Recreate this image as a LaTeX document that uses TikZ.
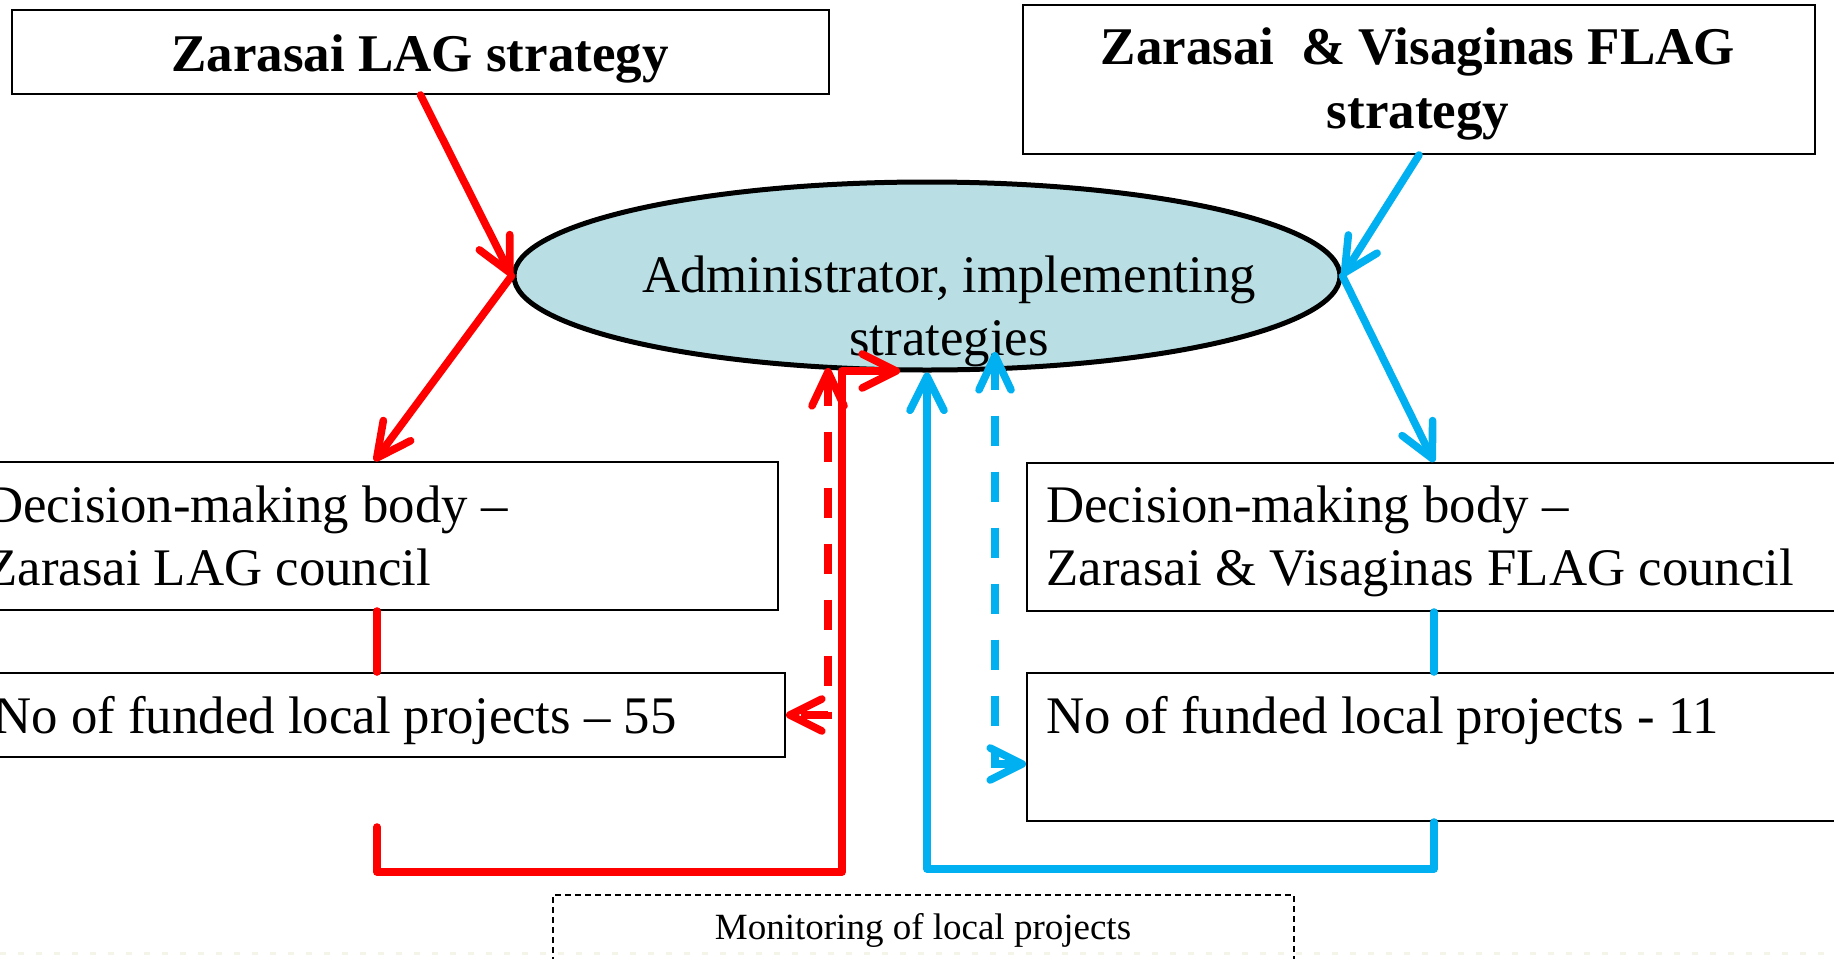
\documentclass[tikz,border=0pt]{standalone}
\usepackage{fontspec}
\setmainfont{Liberation Serif}
\usetikzlibrary{shapes.geometric,arrows.meta,calc}
\definecolor{lagred}{HTML}{FF0000}
\definecolor{flagblue}{HTML}{00B0F0}
\definecolor{adminfill}{HTML}{B9DFE4}
\definecolor{faint}{RGB}{244,244,232}
\begin{document}
\begin{tikzpicture}[x=0.5pt,y=-0.5pt,
  box/.style={draw=black, line width=1pt, inner sep=0pt, anchor=north west},
  txt/.style={inner sep=0pt, font=\fontsize{26.4}{31.5}\selectfont},
  titletxt/.style={inner sep=0pt, font=\fontsize{26.5}{32}\selectfont\bfseries},
  conn/.style={line width=3.8pt, line cap=round, line join=round},
  dashconn/.style={line width=3.8pt, line cap=butt, dash pattern=on 15pt off 13pt},
  tip/.style={-{Straight Barb[length=17pt,width=17pt,round]}},
  tips/.style={{Straight Barb[length=17pt,width=16pt,round]}-{Straight Barb[length=16pt,width=16pt,round]}}
]
\useasboundingbox (0,0) rectangle (1834,958);
\clip (0,0) rectangle (1834,958);
\fill[white] (0,0) rectangle (1834,958);

% boxes
\node[box, minimum width=408.5pt, minimum height=42pt] (lag) at (11,9) {};
\node[box, minimum width=396pt, minimum height=74.5pt] (flag) at (1022,4) {};
\node[draw=black, line width=2.5pt, fill=adminfill, ellipse, inner sep=0pt,
      minimum width=413pt, minimum height=94pt] (admin) at (927,276) {};
\node[box, minimum width=403.5pt, minimum height=74pt] (decL) at (-30,461) {};
\node[box, minimum width=408pt, minimum height=42pt] (noL) at (-32,672) {};
\node[box, minimum width=407pt, minimum height=74pt] (decR) at (1026,462) {};
\node[box, minimum width=407pt, minimum height=74pt] (noR) at (1026,672) {};
\node[box, line width=0.8pt, dash pattern=on 3pt off 2pt, minimum width=370.5pt, minimum height=53pt] (mon) at (552,894) {};

% texts (base anchor of a multi-line node = last line)
\node[titletxt, anchor=base] (lagT) at (420,71) {Zarasai LAG strategy};
\node[titletxt, anchor=base, align=center] (flagT) at (1418,128) {Zarasai\ \ \& Visaginas FLAG\\strategy};
\node[txt, anchor=base, align=center] (adminT) at (949,355) {Administrator, implementing\\strategies};
\node[txt, anchor=base west, align=left] (decLT) at (-15,585) {Decision-making body –\\Zarasai LAG council};
\node[txt, anchor=base west] (noLT) at (-7,733) {No of funded local projects – 55};
\node[txt, anchor=base west, align=left] (decRT) at (1046,585) {Decision-making body –\\Zarasai \& Visaginas FLAG council};
\node[txt, anchor=base west] (noRT) at (1046,733) {No of funded local projects - 11};
\node[inner sep=0pt, font=\fontsize{18.5}{22}\selectfont, anchor=base] (monT) at (923,939) {Monitoring of local projects};

% faint dotted line at the bottom edge
\draw[faint, line width=1.5pt, dash pattern=on 3pt off 6pt] (0,953) -- (1834,953);

% strategy arrows
\draw[conn, lagred, tip] (lag.south) -- (admin.west);
\draw[conn, lagred, tip] (admin.west) -- (decL.north);
\draw[conn, flagblue, tip] (flag.south) -- (admin.east);
\draw[conn, flagblue, tip] (admin.east) -- (decR.north);

% council to projects
\draw[conn, lagred] (noL.north |- decL.south) -- (noL.north);
\draw[conn, flagblue] (decR.south) -- (noR.north);

% feedback loops
\coordinate (rStart) at (377,827);
\coordinate (rCorner) at (842,872);
\coordinate (rEnd) at (900,371);
\draw[conn, lagred, tip] (rStart) |- (rCorner) |- (rEnd);

\coordinate (bCorner) at (927,869);
\draw[conn, flagblue, tip] (noR.south) |- (bCorner) -- (admin.south);

% dashed monitoring arrows
\coordinate (rdTop) at (828,368);
\draw[dashconn, lagred, tips] (rdTop) |- (noL.east);
\coordinate (bdTop) at (995,352);
\coordinate (bdEnd) at ($(noR.west)+(0,17)$);
\draw[dashconn, flagblue, tips] (bdTop) |- (bdEnd);
\end{tikzpicture}
\end{document}
